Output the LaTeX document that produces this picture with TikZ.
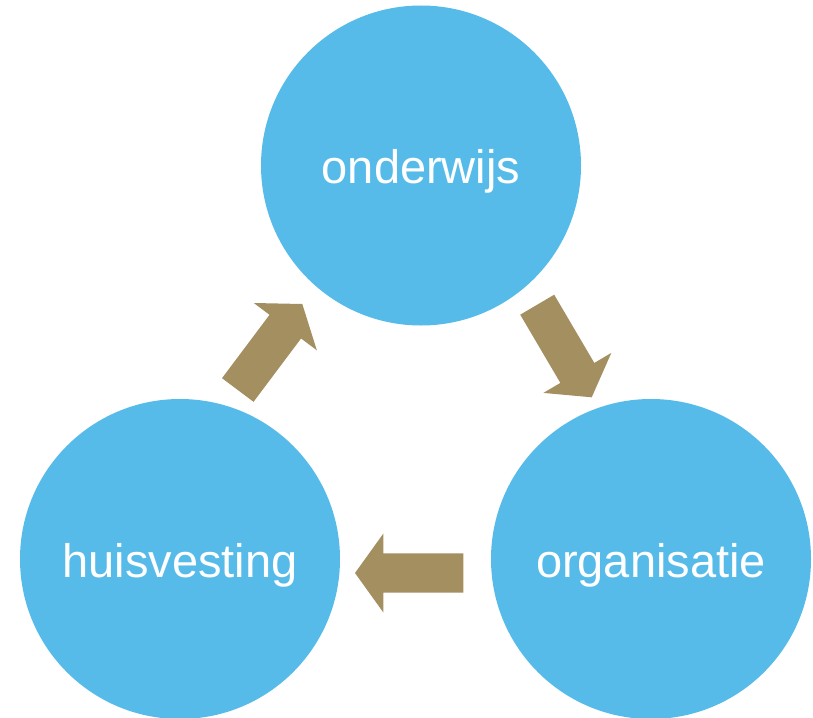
\documentclass[tikz,border=0pt]{standalone}
\usepackage{fontspec}
\setmainfont{Liberation Sans}
\usetikzlibrary{calc}
\definecolor{bubble}{HTML}{57BBEA}
\definecolor{khaki}{HTML}{A38F5F}
\tikzset{
  bubble/.style={circle, fill=bubble, draw=none, minimum size=320pt, inner sep=0pt,
    text=white, font=\fontsize{47}{56}\selectfont, text height=36pt, text depth=0pt},
  blockarrow/.style={fill=khaki, draw=none}
}
\newcommand{\blockarrow}[2]{%
  \fill[blockarrow]
    ($(#1)!19.7pt!90:(#2)$) --
    ($($(#2)!28.3pt!(#1)$)!19.7pt!90:(#2)$) --
    ($($(#2)!28.3pt!(#1)$)!39.4pt!90:(#2)$) --
    (#2) --
    ($($(#2)!28.3pt!(#1)$)!39.4pt!-90:(#2)$) --
    ($($(#2)!28.3pt!(#1)$)!19.7pt!-90:(#2)$) --
    ($(#1)!19.7pt!-90:(#2)$) -- cycle;}
\begin{document}
\begin{tikzpicture}[x=1pt,y=-1pt]
\useasboundingbox (0,0) rectangle (813,717);
\clip (0,0) rectangle (813,717);
\node[bubble] (ond) at (421,165.5) {onderwijs};
\node[bubble] (huis) at (180,559) {huisvesting};
\node[bubble] (org) at (651,559) {organisatie};
\coordinate (a1b) at (237.8,390);
\coordinate (a1t) at (302.3,304);
\coordinate (a2b) at (537.2,304.7);
\coordinate (a2t) at (591.7,397.3);
\coordinate (a3b) at (463.3,573);
\coordinate (a3t) at (355,573);
\blockarrow{a1b}{a1t}
\blockarrow{a2b}{a2t}
\blockarrow{a3b}{a3t}
\end{tikzpicture}
\end{document}
